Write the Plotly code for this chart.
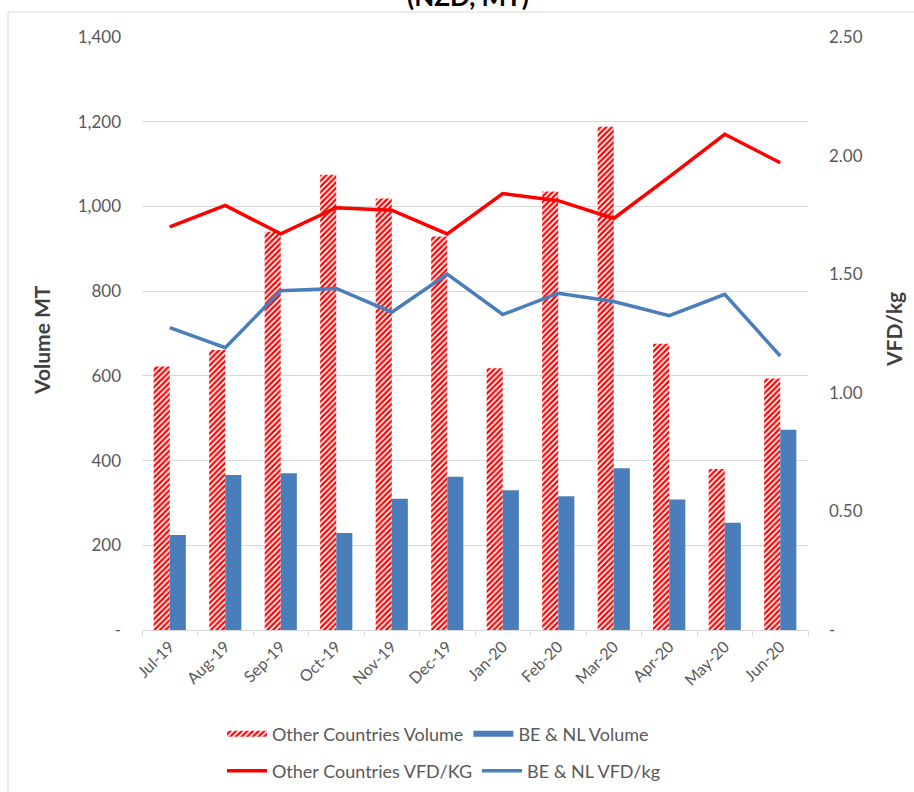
import plotly.graph_objects as go

months = ["Jul-19", "Aug-19", "Sep-19", "Oct-19", "Nov-19", "Dec-19",
          "Jan-20", "Feb-20", "Mar-20", "Apr-20", "May-20", "Jun-20"]
other_volume = [622, 661, 940, 1075, 1019, 929, 618, 1035, 1188, 676, 380, 594]
benl_volume = [224, 366, 370, 229, 310, 362, 330, 316, 382, 308, 253, 473]
other_vfd = [1.70, 1.79, 1.67, 1.78, 1.77, 1.67, 1.84, 1.81, 1.735, 1.91, 2.09, 1.97]
benl_vfd = [1.275, 1.19, 1.43, 1.44, 1.34, 1.50, 1.33, 1.42, 1.385, 1.325, 1.415, 1.155]

left_ticks = [0, 200, 400, 600, 800, 1000, 1200, 1400]
left_ticktext = ["-", "200", "400", "600", "800", "1,000", "1,200", "1,400"]
right_ticks = [0, 0.5, 1.0, 1.5, 2.0, 2.5]
right_ticktext = ["-", "0.50", "1.00", "1.50", "2.00", "2.50"]

RED = "#FF0000"
BLUE = "#4A7EBB"
GRAY = "#595959"
FONT = "Lato"

hatch = dict(shape="/", fgcolor=RED, fgopacity=1, bgcolor="white", size=4, solidity=0.55)

fig = go.Figure()
fig.add_trace(go.Bar(
    x=months, y=other_volume, name="Other Countries Volume",
    marker=dict(color="white", line=dict(width=0), pattern=hatch),
    showlegend=False,
))
fig.add_trace(go.Bar(
    x=months, y=benl_volume, name="BE & NL Volume",
    marker=dict(color=BLUE, line=dict(width=0)),
    showlegend=False,
))
# legend-only entries with wide rectangular icons
fig.add_trace(go.Scatter(
    x=[None], y=[None], name="Other Countries Volume", mode="none",
    fill="toself", fillcolor="white", fillpattern=hatch, legend="legend",
))
fig.add_trace(go.Scatter(
    x=[None], y=[None], name="BE & NL Volume", mode="none",
    fill="toself", fillcolor=BLUE, legend="legend",
))
fig.add_trace(go.Scatter(
    x=months, y=other_vfd, name="Other Countries VFD/KG", yaxis="y2",
    mode="lines", line=dict(color=RED, width=3.5), legend="legend2",
))
fig.add_trace(go.Scatter(
    x=months, y=benl_vfd, name="BE & NL VFD/kg", yaxis="y2",
    mode="lines", line=dict(color=BLUE, width=3.5), legend="legend2",
))

L, R, T, B = 142, 106, 37, 162
W, H = 914, 792
pw, ph = W - L - R, H - T - B

def px(x):
    return (x - L) / pw

def py(y):
    return (H - B - y) / ph

fig.update_layout(
    width=W, height=H,
    margin=dict(l=L, r=R, t=T, b=B, pad=0, autoexpand=False),
    paper_bgcolor="white", plot_bgcolor="white",
    font=dict(family=FONT, color=GRAY, size=17),
    barmode="group", bargap=0.42, bargroupgap=0,
    xaxis=dict(
        type="category", showline=True, linecolor="#d9d9d9", linewidth=1,
        ticks="outside", tickson="boundaries", ticklen=5, tickcolor="#d9d9d9",
        tickangle=-45, tickfont=dict(size=16, color=GRAY), showgrid=False,
        automargin=False,
    ),
    yaxis=dict(
        range=[0, 1400], tickvals=left_ticks, ticktext=left_ticktext,
        showgrid=True, gridcolor="#d9d9d9", gridwidth=1, zeroline=False,
        ticks="", ticklabelstandoff=20, tickfont=dict(size=17, color=GRAY),
        automargin=False,
    ),
    yaxis2=dict(
        range=[0, 2.5], tickvals=right_ticks, ticktext=right_ticktext,
        overlaying="y", side="right", showgrid=False, zeroline=False,
        ticks="", ticklabelstandoff=20, tickfont=dict(size=17, color=GRAY),
        automargin=False,
    ),
    legend=dict(
        orientation="h", x=px(222), y=py(734), xanchor="left", yanchor="middle",
        font=dict(size=18, color=GRAY), bgcolor="rgba(0,0,0,0)",
        traceorder="normal", itemwidth=40,
    ),
    legend2=dict(
        orientation="h", x=px(222), y=py(771), xanchor="left", yanchor="middle",
        font=dict(size=18, color=GRAY), bgcolor="rgba(0,0,0,0)",
        traceorder="normal", itemwidth=40,
    ),
    showlegend=True,
    annotations=[
        dict(text="<b>(NZD, MT)</b>", x=px(468), y=py(14), xref="paper", yref="paper",
             xanchor="center", yanchor="bottom", showarrow=False,
             font=dict(family=FONT, size=26, color="black")),
        dict(text="<b>Volume MT</b>", x=px(42), y=py(340), xref="paper", yref="paper",
             xanchor="center", yanchor="middle", textangle=-90, showarrow=False,
             font=dict(family=FONT, size=21, color="#404040")),
        dict(text="<b>VFD/kg</b>", x=px(893), y=py(330), xref="paper", yref="paper",
             xanchor="center", yanchor="middle", textangle=-90, showarrow=False,
             font=dict(family=FONT, size=21, color="#404040")),
    ],
    shapes=[
        dict(type="line", xref="paper", yref="paper", x0=px(8), x1=px(914), y0=py(12), y1=py(12),
             line=dict(color="#d9d9d9", width=1)),
        dict(type="line", xref="paper", yref="paper", x0=px(8), x1=px(8), y0=py(12), y1=py(792),
             line=dict(color="#d9d9d9", width=1)),
    ],
)

fig.write_html("out.html")
